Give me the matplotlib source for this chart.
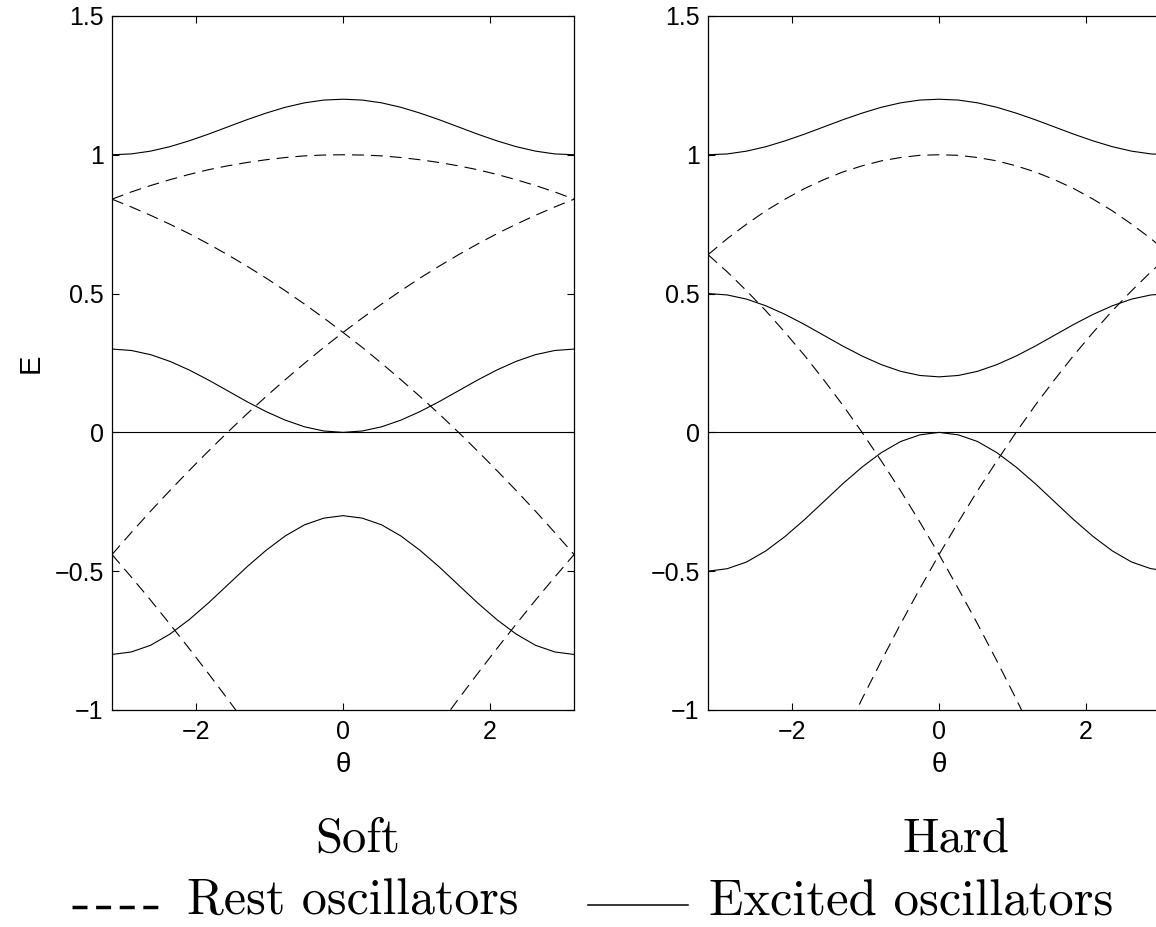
import matplotlib
matplotlib.use('Agg')
import matplotlib.pyplot as plt
from matplotlib.lines import Line2D

# Phase theta, sampled every pi/12 from -pi to pi
theta = [-3.1416, -2.8798, -2.6180, -2.3562, -2.0944, -1.8326, -1.5708, -1.3090,
         -1.0472, -0.7854, -0.5236, -0.2618, 0.0, 0.2618, 0.5236, 0.7854,
         1.0472, 1.3090, 1.5708, 1.8326, 2.0944, 2.3562, 2.6180, 2.8798, 3.1416]

# Soft case - excited oscillators (solid)
soft_exc_top = [1.000, 1.003, 1.013, 1.029, 1.050, 1.074, 1.100, 1.126, 1.150, 1.171, 1.187, 1.197, 1.200,
                1.197, 1.187, 1.171, 1.150, 1.126, 1.100, 1.074, 1.050, 1.029, 1.013, 1.003, 1.000]
soft_exc_mid = [0.300, 0.295, 0.280, 0.256, 0.225, 0.189, 0.150, 0.111, 0.075, 0.044, 0.020, 0.005, 0.000,
                0.005, 0.020, 0.044, 0.075, 0.111, 0.150, 0.189, 0.225, 0.256, 0.280, 0.295, 0.300]
soft_exc_low = [-0.800, -0.791, -0.767, -0.727, -0.675, -0.615, -0.550, -0.485, -0.425, -0.373, -0.333, -0.309, -0.300,
                -0.309, -0.333, -0.373, -0.425, -0.485, -0.550, -0.615, -0.675, -0.727, -0.767, -0.791, -0.800]

# Soft case - rest oscillators (dashed)
soft_rest_arch = [0.840, 0.866, 0.889, 0.910, 0.929, 0.946, 0.960, 0.972, 0.982, 0.990, 0.996, 0.999, 1.000,
                  0.999, 0.996, 0.990, 0.982, 0.972, 0.960, 0.946, 0.929, 0.910, 0.889, 0.866, 0.840]
soft_rest_fall = [0.840, 0.812, 0.782, 0.750, 0.716, 0.679, 0.640, 0.599, 0.556, 0.510, 0.462, 0.412, 0.360,
                  0.306, 0.249, 0.190, 0.129, 0.066, 0.000, -0.068, -0.138, -0.210, -0.284, -0.361, -0.440]
soft_rest_rise = [-0.440, -0.361, -0.284, -0.210, -0.138, -0.068, 0.000, 0.066, 0.129, 0.190, 0.249, 0.306, 0.360,
                  0.412, 0.462, 0.510, 0.556, 0.599, 0.640, 0.679, 0.716, 0.750, 0.782, 0.812, 0.840]
soft_rest_low_left = [-0.440, -0.521, -0.604, -0.690, -0.778, -0.868, -0.960, -1.054]
soft_rest_low_right = [-1.054, -0.960, -0.868, -0.778, -0.690, -0.604, -0.521, -0.440]

# Hard case - excited oscillators (solid)
hard_exc_top = [1.000, 1.003, 1.013, 1.029, 1.050, 1.074, 1.100, 1.126, 1.150, 1.171, 1.187, 1.197, 1.200,
                1.197, 1.187, 1.171, 1.150, 1.126, 1.100, 1.074, 1.050, 1.029, 1.013, 1.003, 1.000]
hard_exc_mid = [0.500, 0.495, 0.480, 0.456, 0.425, 0.389, 0.350, 0.311, 0.275, 0.244, 0.220, 0.205, 0.200,
                0.205, 0.220, 0.244, 0.275, 0.311, 0.350, 0.389, 0.425, 0.456, 0.480, 0.495, 0.500]
hard_exc_low = [-0.500, -0.491, -0.467, -0.427, -0.375, -0.315, -0.250, -0.185, -0.125, -0.073, -0.033, -0.009, 0.000,
                -0.009, -0.033, -0.073, -0.125, -0.185, -0.250, -0.315, -0.375, -0.427, -0.467, -0.491, -0.500]

# Hard case - rest oscillators (dashed)
hard_rest_arch = [0.640, 0.698, 0.750, 0.798, 0.840, 0.878, 0.910, 0.938, 0.960, 0.978, 0.990, 0.998, 1.000,
                  0.998, 0.990, 0.978, 0.960, 0.938, 0.910, 0.878, 0.840, 0.798, 0.750, 0.698, 0.640]
hard_rest_fall = [0.640, 0.578, 0.510, 0.438, 0.360, 0.278, 0.190, 0.098, 0.000, -0.103, -0.210, -0.323,
                  -0.440, -0.563, -0.690, -0.823, -0.960, -1.103]
hard_rest_rise = [-1.103, -0.960, -0.823, -0.690, -0.563, -0.440, -0.323, -0.210, -0.103, 0.000, 0.098, 0.190,
                  0.278, 0.360, 0.438, 0.510, 0.578, 0.640]

# flat E = 0 band
zero_theta = [-3.1416, 3.1416]
zero_e = [0.0, 0.0]

xticks = [-2, 0, 2]
xticklabels = ['\u22122', '0', '2']
yticks = [-1, -0.5, 0, 0.5, 1, 1.5]
yticklabels = ['\u22121', '\u22120.5', '0', '0.5', '1', '1.5']

plt.rcParams['font.family'] = ['Liberation Sans', 'DejaVu Sans']
plt.rcParams['lines.scale_dashes'] = False

fig = plt.figure(figsize=(11.56, 9.27), dpi=100)
ax_soft = fig.add_axes([0.0969, 0.2341, 0.3997, 0.7487])
ax_hard = fig.add_axes([0.6125, 0.2341, 0.3997, 0.7487])

dash = (0, (8.6, 5.0))
lw = 0.8

# Soft panel
ax_soft.plot(theta, soft_exc_top, color='k', lw=lw)
ax_soft.plot(theta, soft_exc_mid, color='k', lw=lw)
ax_soft.plot(theta, soft_exc_low, color='k', lw=lw)
ax_soft.plot(zero_theta, zero_e, color='k', lw=lw)
ax_soft.plot(theta, soft_rest_arch, color='k', lw=lw, linestyle=dash)
ax_soft.plot(theta, soft_rest_fall, color='k', lw=lw, linestyle=dash)
ax_soft.plot(theta, soft_rest_rise, color='k', lw=lw, linestyle=dash)
ax_soft.plot(theta[:8], soft_rest_low_left, color='k', lw=lw, linestyle=dash)
ax_soft.plot(theta[17:], soft_rest_low_right, color='k', lw=lw, linestyle=dash)

# Hard panel
ax_hard.plot(theta, hard_exc_top, color='k', lw=lw)
ax_hard.plot(theta, hard_exc_mid, color='k', lw=lw)
ax_hard.plot(theta, hard_exc_low, color='k', lw=lw)
ax_hard.plot(zero_theta, zero_e, color='k', lw=lw)
ax_hard.plot(theta, hard_rest_arch, color='k', lw=lw, linestyle=dash)
ax_hard.plot(theta[:18], hard_rest_fall, color='k', lw=lw, linestyle=dash)
ax_hard.plot(theta[7:], hard_rest_rise, color='k', lw=lw, linestyle=dash)

for ax in (ax_soft, ax_hard):
    ax.set_xlim(-3.1416, 3.1416)
    ax.set_ylim(-1, 1.5)
    ax.set_xticks(xticks)
    ax.set_xticklabels(xticklabels)
    ax.set_yticks(yticks)
    ax.set_yticklabels(yticklabels)
    ax.tick_params(direction='in', top=True, right=True, length=5, width=0.8,
                   labelsize=18, pad=6)
    ax.tick_params(axis='x', pad=7)
    for sp in ax.spines.values():
        sp.set_linewidth(0.9)
    ax.set_xlabel('\u03b8', fontsize=20)
    ax.xaxis.set_label_coords(0.5, -0.06)

ax_soft.set_ylabel('E', fontsize=21)
ax_soft.yaxis.set_label_coords(-0.145, 0.5)

# Panel names and legend in Computer Modern
fig.text(315 / 1156, 1 - 852 / 927, 'Soft', family='cmr10', fontsize=35, ha='left', va='baseline')
fig.text(903 / 1156, 1 - 852 / 927, 'Hard', family='cmr10', fontsize=35, ha='left', va='baseline')
fig.text(187 / 1156, 1 - 915 / 927, 'Rest oscillators', family='cmr10', fontsize=36, ha='left', va='baseline')
fig.text(709 / 1156, 1 - 915 / 927, 'Excited oscillators', family='cmr10', fontsize=36.5, ha='left', va='baseline')

fig.add_artist(Line2D([72 / 1156, 158 / 1156], [1 - 907 / 927, 1 - 907 / 927], transform=fig.transFigure,
                      color='k', lw=2.5, linestyle=(0, (10.8, 6.2))))
fig.add_artist(Line2D([588 / 1156, 688 / 1156], [1 - 905 / 927, 1 - 905 / 927], transform=fig.transFigure,
                      color='k', lw=1.1))

fig.savefig('out.png', dpi=100)
